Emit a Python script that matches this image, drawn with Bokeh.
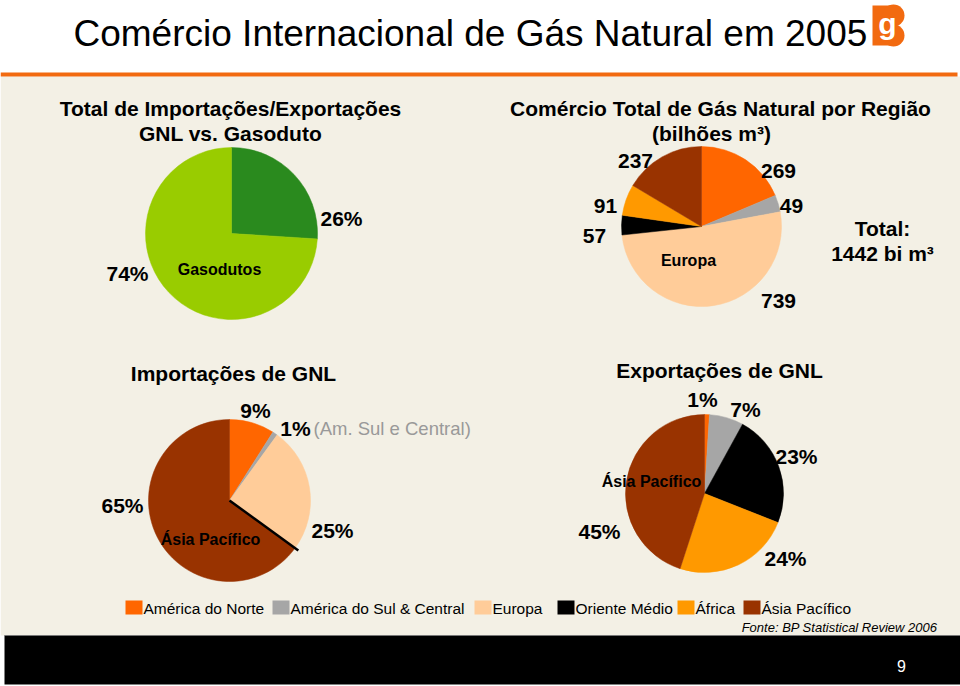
import math
from bokeh.plotting import figure
from bokeh.models import Range1d
from bokeh.embed import file_html
from bokeh.resources import INLINE
from bokeh.core.properties import value

# ---------------- data ----------------
regions = ["América do Norte", "América do Sul & Central", "Europa",
           "Oriente Médio", "África", "Ásia Pacífico"]
region_colors = ["#FF6600", "#A6A6A6", "#FFCC99", "#000000", "#FF9900", "#993300"]
trade_bcm = [269, 49, 739, 57, 91, 237]          # bilhões m3
lng_imports_pct = [9, 1, 25, 0, 0, 65]
lng_exports_pct = [1, 7, 0, 23, 24, 45]
transport_labels = ["GNL", "Gasodutos"]
transport_pct = [26, 74]
transport_colors = ["#2A8A1E", "#99CC00"]

title = "Comércio Internacional de Gás Natural em 2005"
source = "Fonte: BP Statistical Review 2006"
page_no = "9"

# ---------------- figure ----------------
W, H = 960, 686
FONT = "Liberation Sans"
CREAM = "#F3F0E5"


def Y(y):
    return 686 - y


p = figure(width=W, height=H, x_range=Range1d(0, 960), y_range=Range1d(0, 686),
           x_axis_type=None, y_axis_type=None, toolbar_location=None,
           output_backend="svg", min_border=0)
p.grid.visible = False
p.outline_line_color = None
p.background_fill_color = "white"
p.border_fill_color = "white"

# background decorations
p.quad(left=[0], right=[960], top=[Y(76)], bottom=[Y(635)], fill_color=CREAM, line_color=None)
p.quad(left=[0], right=[957], top=[Y(72)], bottom=[Y(76)], fill_color="#F26A10", line_color=None)
p.quad(left=[4], right=[960], top=[Y(635)], bottom=[Y(684)], fill_color="black", line_color=None)
p.segment(x0=[4], y0=[Y(635)], x1=[960], y1=[Y(635)], line_color="#777777", line_width=1)

# logo
p.quad(left=[872], right=[893], top=[Y(5)], bottom=[Y(45)], fill_color="#F26A10", line_color=None)
p.circle(x=[893, 893], y=[Y(15), Y(35)], radius=[11, 11], fill_color="#F26A10", line_color=None)
p.text(x=[887], y=[Y(23)], text=["g"], text_font=value(FONT), text_font_style="bold",
       text_font_size="30px", text_color="white", text_align="center", text_baseline="middle")

# main title
p.text(x=[73], y=[Y(33)], text=[title], text_font=value(FONT), text_font_size="37px",
       text_color="black", text_align="left", text_baseline="middle")


def txt(x, y, s, size, bold=True, color="black", align="center", italic=False):
    style = "bold" if bold else "normal"
    if italic:
        style = "italic"
    p.text(x=[x], y=[Y(y)], text=[s], text_font=value(FONT), text_font_style=style,
           text_font_size=f"{size}px", text_color=color, text_align=align,
           text_baseline="middle")


def angles(vals):
    total = float(sum(vals))
    st, en, cum = [], [], 0.0
    for v in vals:
        st.append(math.pi / 2 - 2 * math.pi * cum / total)
        cum += v
        en.append(math.pi / 2 - 2 * math.pi * cum / total)
    return st, en


def pie(cx, cy, r, vals, colors):
    st, en = angles(vals)
    keep = [i for i, v in enumerate(vals) if v > 0]
    p.wedge(x=[cx] * len(keep), y=[Y(cy)] * len(keep), radius=r,
            start_angle=[st[i] for i in keep], end_angle=[en[i] for i in keep],
            direction="clock", fill_color=[colors[i] for i in keep],
            line_color=[colors[i] for i in keep], line_width=0.5)
    return st, en


# ---- pie 1: GNL vs Gasoduto ----
txt(230, 108, "Total de Importações/Exportações", 21)
txt(230, 133, "GNL vs. Gasoduto", 21)
pie(231, 233, 86, transport_pct, transport_colors)
txt(341, 218, f"{transport_pct[0]}%", 21)
txt(127, 273, f"{transport_pct[1]}%", 21)
txt(219, 269, transport_labels[1], 16)

# ---- pie 2: trade by region ----
txt(720, 108, "Comércio Total de Gás Natural por Região", 21)
txt(711, 133, "(bilhões m³)", 21)
pie(701, 226, 80, trade_bcm, region_colors)
trade_label_pos = [(778, 170), (791, 205), (778, 300), (594, 235), (605, 205), (635, 160)]
for (lx, ly), v in zip(trade_label_pos, trade_bcm):
    txt(lx, ly, str(v), 21)
txt(688, 260, regions[2], 16)
txt(882, 228, "Total:", 21)
txt(882, 253, f"{sum(trade_bcm)} bi m³", 21)

# ---- pie 3: LNG imports ----
txt(233, 373, "Importações de GNL", 21)
cx3, cy3, r3 = 229, 500, 81
st3, en3 = pie(cx3, cy3, r3, lng_imports_pct, region_colors)
a = en3[2]
p.segment(x0=[cx3], y0=[Y(cy3)], x1=[cx3 + 1.05 * r3 * math.cos(a)],
          y1=[Y(cy3) + 1.05 * r3 * math.sin(a)], line_color="black", line_width=2.5)
imp_label_pos = {0: (255, 410), 1: (295, 428), 2: (332, 530), 5: (122, 505)}
for i, (lx, ly) in imp_label_pos.items():
    txt(lx, ly, f"{lng_imports_pct[i]}%", 21)
txt(313, 428, "(Am. Sul e Central)", 18.5, bold=False, color="#999999", align="left")
txt(210, 539, regions[5], 16)

# ---- pie 4: LNG exports ----
txt(719, 370, "Exportações de GNL", 21)
pie(704, 493, 79, lng_exports_pct, region_colors)
exp_label_pos = {0: (702, 399), 1: (745, 409), 3: (796, 456), 4: (785, 558), 5: (599, 531)}
for i, (lx, ly) in exp_label_pos.items():
    txt(lx, ly, f"{lng_exports_pct[i]}%", 21)
txt(651, 481, regions[5], 16)

# ---- legend ----
sq_left = [125, 272, 474, 557, 677, 743]
p.quad(left=sq_left, right=[x + 17 for x in sq_left], top=[Y(600)] * 6, bottom=[Y(614)] * 6,
       fill_color=region_colors, line_color=None)
for x, name in zip(sq_left, regions):
    txt(x + 18, 608, name, 15.5, bold=False, align="left")
txt(937, 627, source, 13, italic=True, align="right")

# page number
txt(901, 665, page_no, 16, bold=False, color="white")

open("out.html", "w").write(file_html(p, INLINE))
